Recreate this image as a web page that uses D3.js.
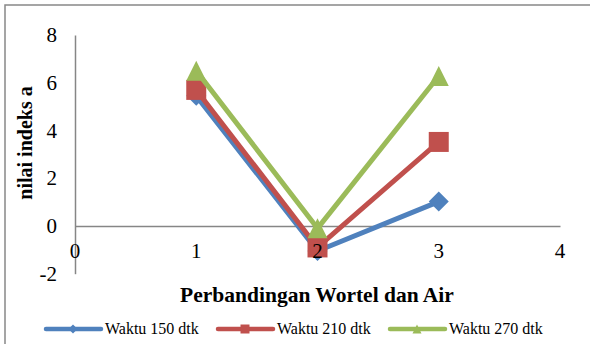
<!DOCTYPE html>
<html><head><meta charset="utf-8">
<script src="https://cdn.jsdelivr.net/npm/d3@7"></script>
<style>body{margin:0;background:#fff}svg{display:block}</style>
</head><body>
<svg id="c" width="590" height="344"></svg>
<script>
const xValues = [1, 2, 3];
const seriesNames = ["Waktu 150 dtk", "Waktu 210 dtk", "Waktu 270 dtk"];
const waktu150 = [5.45, -1.05, 1.02];
const waktu210 = [5.7, -0.9, 3.52];
const waktu270 = [6.5, -0.1, 6.28];
const xTicks = [0, 1, 2, 3, 4];
const yTicks = [-2, 0, 2, 4, 6, 8];
const colors = ["#4F81BD", "#C0504D", "#9BBB59"];
const allSeries = [waktu150, waktu210, waktu270];

const svg = d3.select("#c");
const font = "'Liberation Serif','Times New Roman',serif";
// frame
svg.append("rect").attr("x",5).attr("y",5).attr("width",600).attr("height",360)
  .attr("fill","none").attr("stroke","#888").attr("stroke-width",1.5);

const x = d3.scaleLinear().domain([0,4]).range([75,560]);
const y = d3.scaleLinear().domain([-2,8]).range([273.7,35]);

// axes
const xAxis = d3.axisBottom(x).tickValues(xTicks).tickSize(0).tickPadding(10);
const gx = svg.append("g").attr("transform",`translate(0,${y(0)})`).call(xAxis);
gx.select(".domain").attr("stroke","#868686").attr("stroke-width",1.5);
const yAxis = d3.axisLeft(y).tickValues(yTicks).tickSize(0).tickPadding(18).tickFormat(d=>String(d));
const gy = svg.append("g").attr("transform",`translate(${x(0)},0)`).call(yAxis);
gy.select(".domain").attr("stroke","#868686").attr("stroke-width",1.5);
gx.selectAll("text").remove();
gy.selectAll("text").attr("font-family",font).attr("font-size",21).attr("fill","#000");

function marker(k, s) {
  const h = s/2;
  if (k === 0) return `M0,${-h}L${h},0L0,${h}L${-h},0Z`;
  if (k === 1) return `M${-h},${-h}H${h}V${h}H${-h}Z`;
  return `M0,${-h}L${h},${h}H${-h}Z`;
}

const line = d3.line().x((d,i)=>x(xValues[i])).y(d=>y(d));
allSeries.forEach((s,k)=>{
  svg.append("path").datum(s).attr("d",line).attr("fill","none")
    .attr("stroke",colors[k]).attr("stroke-width",5).attr("stroke-linejoin","round");
  svg.selectAll(null).data(s).enter().append("path")
    .attr("transform",(d,i)=>`translate(${x(xValues[i])},${y(d)})`)
    .attr("d",marker(k,20)).attr("fill",colors[k]);
});

// x tick labels on top
svg.append("g").selectAll("text").data(xTicks).enter().append("text")
  .attr("x",d=>x(d)).attr("y",258).attr("text-anchor","middle")
  .attr("font-family",font).attr("font-size",21).text(d=>d);

// axis titles
svg.append("text").attr("x",317).attr("y",302).attr("text-anchor","middle")
  .attr("font-family",font).attr("font-size",21.5).attr("font-weight","bold").text("Perbandingan Wortel dan Air");
svg.append("text").attr("transform","translate(32,143) rotate(-90)").attr("text-anchor","middle")
  .attr("font-family",font).attr("font-size",20).attr("font-weight","bold").text("nilai indeks a");

// legend
const legX = [46, 218, 390];
seriesNames.forEach((n,k)=>{
  const g = svg.append("g").attr("transform",`translate(${legX[k]},329)`);
  g.append("line").attr("x1",0).attr("x2",55).attr("y1",0).attr("y2",0)
    .attr("stroke",colors[k]).attr("stroke-width",4.5).attr("stroke-linecap","round");
  g.append("path").attr("transform","translate(27,0)").attr("d",marker(k,9)).attr("fill",colors[k]);
  g.append("text").attr("x",59).attr("y",5).attr("font-family",font).attr("font-size",16).text(n);
});
</script>
</body></html>
